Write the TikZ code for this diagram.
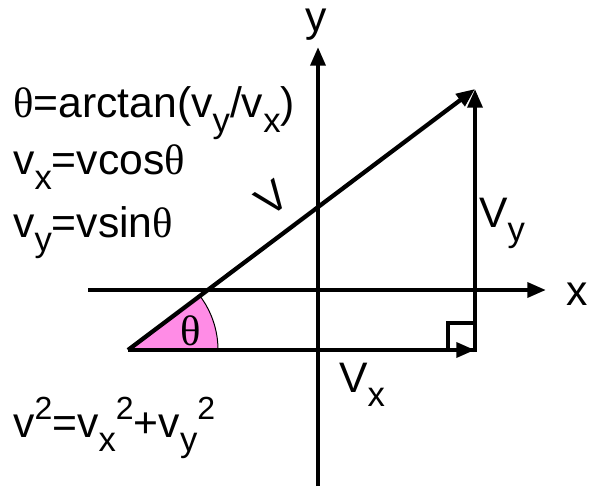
\documentclass[tikz,border=0pt]{standalone}
\usepackage{fontspec}
\setmainfont{Liberation Sans}
\newfontfamily\grk{Liberation Serif}
\usetikzlibrary{arrows.meta}
\definecolor{sectorpink}{RGB}{255,140,230}
\newcommand\sbs[1]{\raisebox{-0.33em}{\fontsize{26}{26}\selectfont #1}}
\newcommand\sps[1]{\raisebox{0.42em}{\fontsize{24}{24}\selectfont #1}}
\begin{document}
\begin{tikzpicture}[x=0.75pt,y=0.75pt,
  vec/.style={line width=3.2pt,-{Triangle[length=14pt,width=11pt]}},
  lbl/.style={inner sep=0pt,font=\fontsize{32}{38}\selectfont},
  eq/.style={lbl,anchor=base west}]
\useasboundingbox (0,0) rectangle (591,486);
\coordinate (O) at (128,136);
\coordinate (P) at (475,136);
\coordinate (Q) at (475,397);
\coordinate (xa0) at (88,196);
\coordinate (xa1) at (546,196);
\coordinate (ya0) at (318,0);
\coordinate (ya1) at (318,439);
% angle sector
\fill[sectorpink] (O) -- ++(90,0) arc[start angle=0,end angle=36.95,radius=90] -- cycle;
\draw[line width=0.75pt] (O) ++(90,0) arc[start angle=0,end angle=36.95,radius=90];
% axes
\draw[vec] (xa0) -- (xa1);
\draw[vec] (ya0) -- (ya1);
% right angle mark
\draw[line width=2.4pt] (448,136) rectangle (475,163);
% vectors
\draw[vec] (O) -- (P);
\draw[vec,shorten <=-1.6pt] (P) -- (Q);
\draw[vec] (O) -- (Q);
% labels
\node[lbl,anchor=base] (ylab) at (316,454) {y};
\node[lbl,anchor=base west] (xlab) at (566,181) {x};
\node[lbl,anchor=base west] (vxlab) at (339,94) {V\sbs{x}};
\node[lbl,anchor=base west] (vylab) at (479,259) {V\sbs{y}};
\node[lbl,rotate=37] (vlab) at (272,288) {V};
\node[lbl,anchor=base,font=\grk\fontsize{32}{38}\selectfont] (th) at (191,141) {θ};
% equations
\node[eq] (eq1) at (13,368) {{\grk θ}=arctan(v\sbs{y}/v\sbs{x})};
\node[eq] (eq2) at (13,311) {v\sbs{x}=vcos{\grk θ}};
\node[eq] (eq3) at (13,249) {v\sbs{y}=vsin{\grk θ}};
\node[eq] (eq4) at (13,49) {v\sps{2}=v\sbs{x}\sps{2}+v\sbs{y}\sps{2}};
\end{tikzpicture}
\end{document}
